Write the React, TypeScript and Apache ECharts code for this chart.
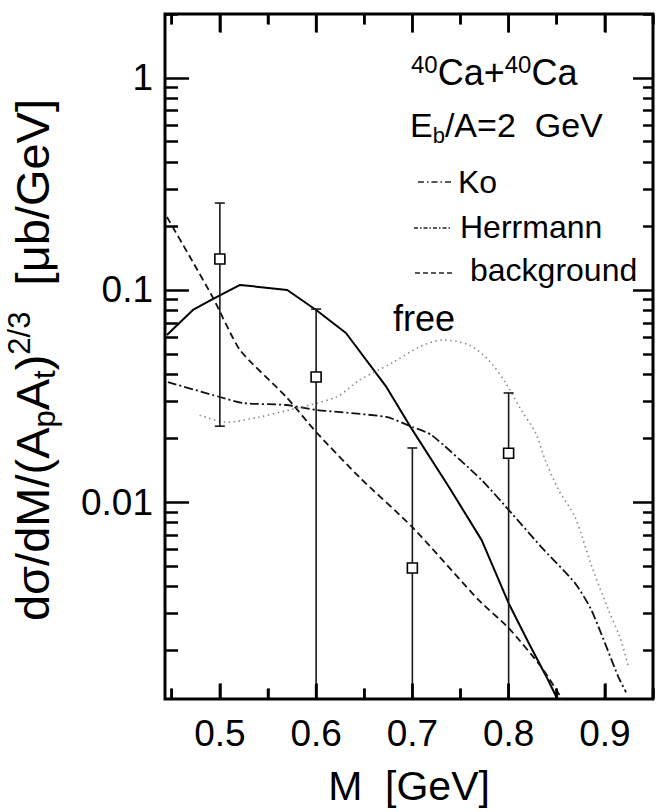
import React, { useEffect, useRef } from 'react';
import * as echarts from 'echarts';

// ---- axis ranges & ticks ----
const X_MIN = 0.443;
const X_MAX = 0.95;
const Y_MIN = 0.00118;
const Y_MAX = 2;

const xMajorTicks = [0.5, 0.6, 0.7, 0.8, 0.9];
const xMinorTicks = [0.45, 0.55, 0.65, 0.75, 0.85, 0.95];
const yMajorTicks = [0.01, 0.1, 1];
const yMinorTicks = [
  0.002, 0.003, 0.004, 0.005, 0.006, 0.007, 0.008, 0.009,
  0.02, 0.03, 0.04, 0.05, 0.06, 0.07, 0.08, 0.09,
  0.2, 0.3, 0.4, 0.5, 0.6, 0.7, 0.8, 0.9,
  2,
];

// ---- curves ----
const koX = [0.445, 0.472, 0.493, 0.521, 0.570, 0.600, 0.631, 0.673, 0.700, 0.738, 0.772, 0.800, 0.821, 0.841, 0.851];
const koY = [0.0613, 0.0805, 0.0907, 0.1057, 0.100, 0.0805, 0.0627, 0.0349, 0.0219, 0.01178, 0.00662, 0.00334, 0.00216, 0.00145, 0.00117];

const herrX = [0.446, 0.500, 0.524, 0.569, 0.600, 0.673, 0.700, 0.720, 0.772, 0.803, 0.834, 0.869, 0.886, 0.914, 0.922];
const herrY = [0.0368, 0.0313, 0.0293, 0.0287, 0.0272, 0.0252, 0.0226, 0.0207, 0.0127, 0.00887, 0.00614, 0.00415, 0.0031, 0.0015, 0.00127];

const bgX = [0.445, 0.469, 0.493, 0.521, 0.569, 0.600, 0.645, 0.700, 0.769, 0.800, 0.834, 0.856];
const bgY = [0.221, 0.143, 0.0917, 0.0521, 0.0313, 0.0214, 0.0131, 0.00762, 0.00345, 0.00255, 0.00167, 0.00117];

const freeX = [0.479, 0.507, 0.541, 0.572, 0.621, 0.645, 0.679, 0.707, 0.731, 0.759, 0.779, 0.797, 0.813, 0.828, 0.838, 0.852, 0.869, 0.886, 0.903, 0.916, 0.924];
const freeY = [0.0257, 0.0238, 0.0252, 0.0272, 0.0313, 0.0376, 0.0453, 0.0538, 0.0581, 0.055, 0.0468, 0.0364, 0.0272, 0.0212, 0.0158, 0.0114, 0.00849, 0.00504, 0.00316, 0.00228, 0.0017];

// ---- data points with error bars ----
const dataX = [0.5, 0.6, 0.7, 0.8];
const dataY = [0.14, 0.0389, 0.00489, 0.017];
const errHigh = [0.257, 0.0813, 0.018, 0.0327];
const errLow: (number | null)[] = [0.0228, null, null, null];

const TICK_FONT = "'Liberation Sans Narrow', 'Liberation Sans', Arial, sans-serif";
const TEXT_FONT = "'Liberation Sans', Arial, sans-serif";

const pairs = (xs: number[], ys: number[]) => xs.map((x, i) => [x, ys[i]]);

function yAxisDef(position: 'left' | 'right', ticks: number[], len: number, labels: boolean) {
  const lt = ticks.map((t) => Math.log10(t));
  return {
    type: 'value',
    min: Math.log10(Y_MIN),
    max: Math.log10(Y_MAX),
    position,
    axisLine: { show: false, onZero: false },
    axisTick: { show: true, inside: true, length: len, customValues: lt, lineStyle: { color: '#000', width: 2.5 } },
    axisLabel: labels
      ? {
          show: true,
          customValues: lt,
          formatter: (v: number) => String(Number(Math.pow(10, v).toPrecision(1))),
          fontFamily: TICK_FONT,
          fontSize: 37,
          color: '#000',
          margin: 12,
        }
      : { show: false },
    splitLine: { show: false },
  };
}

// x axes anchored (via onZero) on helper value axes whose zero sits on the bottom / top frame
function xAxisDef(position: 'top' | 'bottom', ticks: number[], len: number, labels: boolean, extra: any = {}) {
  return {
    type: 'value',
    min: X_MIN,
    max: X_MAX,
    position,
    axisLine: { show: false, onZero: true, onZeroAxisIndex: position === 'bottom' ? 5 : 6 },
    axisTick: { show: true, inside: true, length: len, customValues: ticks, lineStyle: { color: '#000', width: 2.5 } },
    axisLabel: labels
      ? {
          show: true,
          customValues: ticks,
          formatter: (v: number) => v.toFixed(1),
          fontFamily: TICK_FONT,
          fontSize: 37,
          color: '#000',
          margin: 16,
        }
      : { show: false },
    splitLine: { show: false },
    ...extra,
  };
}

// kind: 0 = error bar without low cap, 1 = error bar with low cap, 2 = major x tick, 3 = minor x tick
const markData = [
  ...dataX.map((x, i) => [x, errLow[i] == null ? Y_MIN : errLow[i], errHigh[i], errLow[i] == null ? 0 : 1]),
  ...xMajorTicks.map((v) => [v, Y_MIN, Y_MAX, 2]),
  ...xMinorTicks.map((v) => [v, Y_MIN, Y_MAX, 3]),
];

const option: any = {
  animation: false,
  backgroundColor: '#fff',
  grid: {
    left: 165,
    top: 14,
    width: 488,
    height: 685,
    outerBoundsMode: 'none',
    containLabel: false,
    show: true,
    borderColor: '#000',
    borderWidth: 3,
    backgroundColor: 'transparent',
  },
  xAxis: [
    xAxisDef('bottom', xMajorTicks, 15, true, {
      name: 'M  [GeV]',
      nameLocation: 'middle',
      nameGap: 66,
      nameTextStyle: { fontFamily: TEXT_FONT, fontSize: 41, color: '#000' },
    }),
    xAxisDef('bottom', xMinorTicks, 10, false),
    xAxisDef('top', xMajorTicks, 18, false),
    xAxisDef('top', xMinorTicks, 10, false),
  ],
  yAxis: [
    {
      type: 'log',
      logBase: 10,
      min: Y_MIN,
      max: Y_MAX,
      position: 'left',
      axisLine: { show: false, onZero: false },
      axisTick: { show: false },
      axisLabel: { show: false },
      splitLine: { show: false },
      minorTick: { show: false },
    },
    yAxisDef('left', yMajorTicks, 24, true),
    yAxisDef('left', yMinorTicks, 13, false),
    yAxisDef('right', yMajorTicks, 20, false),
    yAxisDef('right', yMinorTicks, 10, false),
    {
      type: 'value',
      min: -0.001,
      max: 1,
      position: 'left',
      axisLine: { show: false, onZero: false },
      axisTick: { show: false },
      axisLabel: { show: false },
      splitLine: { show: false },
    },
    {
      type: 'value',
      min: -1,
      max: 0.001,
      position: 'right',
      axisLine: { show: false, onZero: false },
      axisTick: { show: false },
      axisLabel: { show: false },
      splitLine: { show: false },
    },
  ],
  series: [
    {
      name: 'Ko',
      type: 'line',
      data: pairs(koX, koY),
      showSymbol: false,
      symbol: 'none',
      lineStyle: { color: '#000', width: 2 },
      z: 3,
    },
    {
      name: 'Herrmann',
      type: 'line',
      data: pairs(herrX, herrY),
      symbol: 'none',
      smooth: 0.2,
      lineStyle: { color: '#111', width: 1.8, type: [9, 3, 2, 3] },
      z: 3,
    },
    {
      name: 'background',
      type: 'line',
      data: pairs(bgX, bgY),
      symbol: 'none',
      smooth: 0.2,
      lineStyle: { color: '#111', width: 1.8, type: [7, 4] },
      z: 3,
    },
    {
      name: 'free',
      type: 'line',
      data: pairs(freeX, freeY),
      symbol: 'none',
      smooth: 0.3,
      lineStyle: { color: '#8a8a8a', width: 1.6, type: [1.5, 3.5] },
      z: 3,
    },
    {
      name: 'errors',
      type: 'custom',
      data: markData,
      renderItem: (params: any, api: any) => {
        const x = api.value(0);
        const lo = api.value(1);
        const hi = api.value(2);
        const kind = api.value(3);
        const pHi = api.coord([x, hi]);
        const pLo = api.coord([x, lo]);
        if (kind >= 2) {
          const lb = kind === 2 ? 15 : 10;
          const lt = kind === 2 ? 18 : 10;
          const ts = { stroke: '#000', lineWidth: 2.5 };
          return {
            type: 'group',
            children: [
              { type: 'line', shape: { x1: pLo[0], y1: pLo[1], x2: pLo[0], y2: pLo[1] - lb }, style: ts },
              { type: 'line', shape: { x1: pHi[0], y1: pHi[1], x2: pHi[0], y2: pHi[1] + lt }, style: ts },
            ],
          };
        }
        const style = { stroke: '#1a1a1a', lineWidth: 1.6 };
        const children: any[] = [
          { type: 'line', shape: { x1: pHi[0], y1: pHi[1], x2: pLo[0], y2: pLo[1] }, style },
          { type: 'line', shape: { x1: pHi[0] - 5, y1: pHi[1], x2: pHi[0] + 5, y2: pHi[1] }, style },
        ];
        if (kind === 1) {
          children.push({ type: 'line', shape: { x1: pLo[0] - 5, y1: pLo[1], x2: pLo[0] + 5, y2: pLo[1] }, style });
        }
        return { type: 'group', children };
      },
      z: 4,
    },
    {
      name: 'data',
      type: 'scatter',
      data: pairs(dataX, dataY),
      symbol: 'rect',
      symbolSize: [10, 10],
      itemStyle: { color: '#fff', borderColor: '#000', borderWidth: 1.6, opacity: 1 },
      z: 5,
    },
  ],
  graphic: [
    {
      type: 'text',
      x: 32,
      y: 360,
      rotation: Math.PI / 2,
      style: {
        text: '{m|dσ/dM/(A}{sub|p}{m|A}{sub|t}{m|)}{sup|2/3}{m|  [μb/GeV]}',
        align: 'center',
        verticalAlign: 'middle',
        fill: '#000',
        rich: {
          m: { fontFamily: TEXT_FONT, fontSize: 47, lineHeight: 56, fill: '#000' },
          sub: { fontFamily: TEXT_FONT, fontSize: 31, lineHeight: 30, verticalAlign: 'bottom', fill: '#000' },
          sup: { fontFamily: TEXT_FONT, fontSize: 31, lineHeight: 30, verticalAlign: 'top', fill: '#000' },
        },
      },
    },
    {
      type: 'text',
      x: 411,
      y: 72,
      style: {
        text: '{sup|40}{m|Ca+}{sup|40}{m|Ca}',
        align: 'left',
        verticalAlign: 'middle',
        rich: {
          m: { fontFamily: TEXT_FONT, fontSize: 36, lineHeight: 40, fill: '#000' },
          sup: { fontFamily: TEXT_FONT, fontSize: 24, lineHeight: 26, verticalAlign: 'top', fill: '#000' },
        },
      },
    },
    {
      type: 'text',
      x: 410,
      y: 125,
      style: {
        text: '{m|E}{sub|b}{m|/A=2  GeV}',
        align: 'left',
        verticalAlign: 'middle',
        rich: {
          m: { fontFamily: TEXT_FONT, fontSize: 34, lineHeight: 42, fill: '#000' },
          sub: { fontFamily: TEXT_FONT, fontSize: 22, lineHeight: 22, verticalAlign: 'bottom', fill: '#000' },
        },
      },
    },
    { type: 'line', shape: { x1: 418, y1: 182, x2: 452, y2: 182 }, style: { stroke: '#222', lineWidth: 1.3, lineDash: [6, 3, 1.5, 3] } },
    { type: 'line', shape: { x1: 414, y1: 228, x2: 452, y2: 228 }, style: { stroke: '#222', lineWidth: 1.3, lineDash: [4, 2, 1.5, 2] } },
    { type: 'line', shape: { x1: 415, y1: 273, x2: 452, y2: 273 }, style: { stroke: '#222', lineWidth: 1.3, lineDash: [5, 3] } },
    {
      type: 'text',
      x: 458,
      y: 182,
      style: { text: 'Ko', fontFamily: TEXT_FONT, fontSize: 32, fill: '#000', align: 'left', verticalAlign: 'middle' },
    },
    {
      type: 'text',
      x: 460,
      y: 227,
      style: { text: 'Herrmann', fontFamily: TEXT_FONT, fontSize: 32, fill: '#000', align: 'left', verticalAlign: 'middle' },
    },
    {
      type: 'text',
      x: 470,
      y: 270,
      style: { text: 'background', fontFamily: TEXT_FONT, fontSize: 32, fill: '#000', align: 'left', verticalAlign: 'middle' },
    },
    {
      type: 'text',
      x: 393,
      y: 318,
      style: { text: 'free', fontFamily: TEXT_FONT, fontSize: 36, fill: '#000', align: 'left', verticalAlign: 'middle' },
    },
  ],
};

export default function App() {
  const ref = useRef<HTMLDivElement>(null);
  useEffect(() => {
    const chart = echarts.init(ref.current!, null, { renderer: 'svg' });
    chart.setOption(option);
    return () => chart.dispose();
  }, []);
  return (
    <div
      ref={ref}
      style={{ position: 'absolute', left: 0, top: 0, width: 656, height: 812, background: '#fff' }}
    />
  );
}
